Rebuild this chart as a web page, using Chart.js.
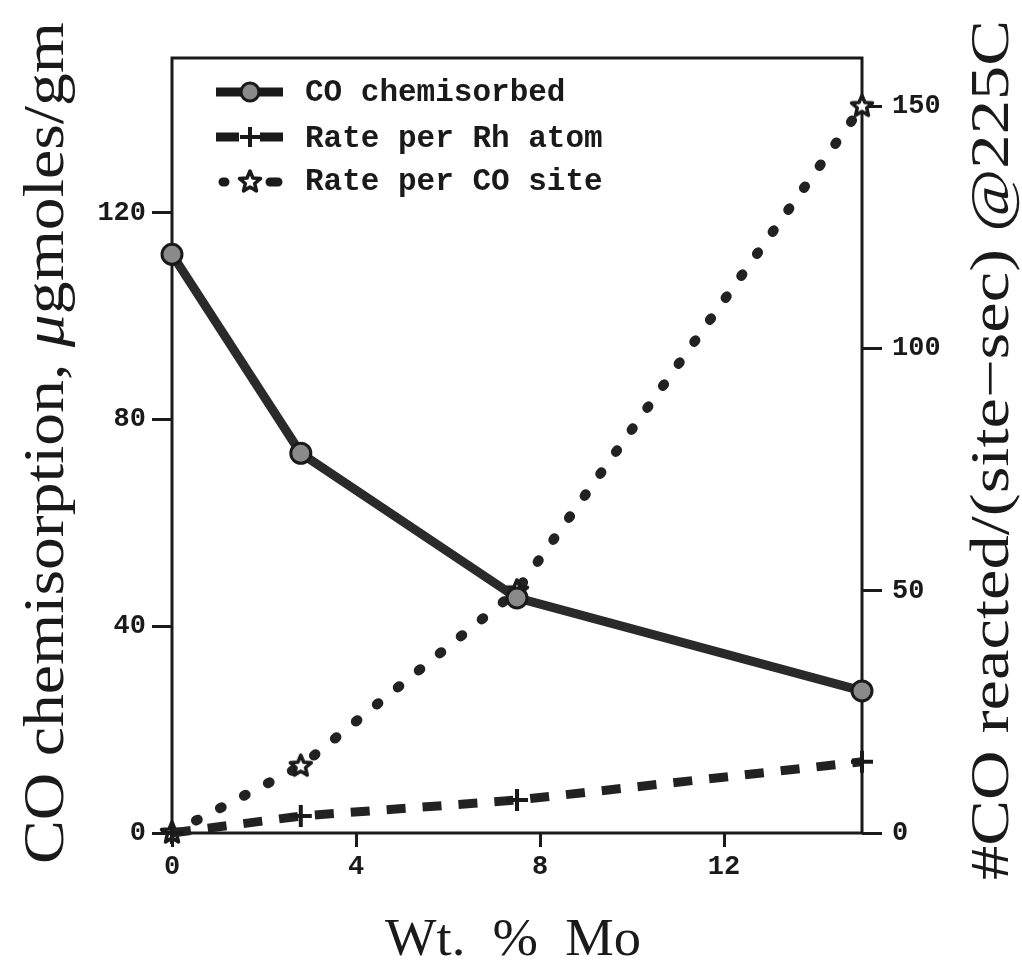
<!DOCTYPE html>
<html>
<head>
<meta charset="utf-8">
<script src="https://cdn.jsdelivr.net/npm/chart.js@4.4.0/dist/chart.umd.min.js"></script>
<style>
  html, body { margin: 0; padding: 0; background: #fff; }
</style>
</head>
<body>
<canvas id="chart" width="1022" height="967"></canvas>
<script>
// values
const wtMo = [0, 2.8, 7.5, 15];
const coChemisorbed = [112, 73.5, 45.5, 27.5];   // left axis
const ratePerRh = [0, 3.5, 6.8, 14.7];           // right axis
const ratePerSite = [0, 13.8, 50, 150];          // right axis

const xTicks = [0, 4, 8, 12];
const leftTicks = [0, 40, 80, 120];
const rightTicks = [0, 50, 100, 150];

const ink = '#1a1a1a';
const tickFont = { family: 'Liberation Mono', size: 27, weight: 'bold' };

function xy(ys) {
  return wtMo.map((x, i) => ({ x: x, y: ys[i] }));
}

// five pointed star marker, Chart.js 'star' is an asterisk
function makeStar(r) {
  const c = document.createElement('canvas');
  c.width = c.height = r * 2 + 6;
  const g = c.getContext('2d');
  g.translate(r + 3, r + 3);
  g.beginPath();
  for (let i = 0; i < 10; i++) {
    const rad = i % 2 ? r * 0.45 : r;
    const a = -Math.PI / 2 + i * Math.PI / 5;
    g.lineTo(Math.cos(a) * rad, Math.sin(a) * rad);
  }
  g.closePath();
  g.fillStyle = '#fff';
  g.fill();
  g.lineWidth = 3.5;
  g.lineJoin = 'round';
  g.strokeStyle = ink;
  g.stroke();
  return c;
}
const starImg = makeStar(11);

// draw a run of text pieces stretched to a given length, optionally rotated
function drawRuns(ctx, runs, x, y, width, rotate) {
  ctx.save();
  let total = 0;
  runs.forEach(r => {
    ctx.font = r[1];
    total += ctx.measureText(r[0]).width;
  });
  ctx.translate(x, y);
  if (rotate) ctx.rotate(-Math.PI / 2);
  ctx.scale(width / total, 1);
  ctx.fillStyle = ink;
  ctx.textAlign = 'left';
  ctx.textBaseline = 'alphabetic';
  let pos = -total / 2;
  runs.forEach(r => {
    ctx.font = r[1];
    ctx.fillText(r[0], pos, 0);
    pos += ctx.measureText(r[0]).width;
  });
  ctx.restore();
}

const framePlugin = {
  id: 'frame',
  beforeDatasetsDraw(chart) {
    const { ctx, chartArea: a } = chart;
    ctx.save();
    ctx.strokeStyle = ink;
    ctx.lineWidth = 3;
    ctx.strokeRect(a.left, a.top, a.right - a.left, a.bottom - a.top);
    ctx.restore();
  }
};

const labelsPlugin = {
  id: 'labels',
  afterDraw(chart) {
    const ctx = chart.ctx;
    const serif = 'Liberation Serif';

    // axis titles
    drawRuns(ctx, [
      ['CO chemisorption, ', '56px "' + serif + '"'],
      ['\u03bc', 'italic 56px "' + serif + '"'],
      ['gmoles/gm', '56px "' + serif + '"']
    ], 63, 443, 842, true);
    drawRuns(ctx, [['#CO reacted/(site\u2212sec) @225C', '54px "' + serif + '"']], 1008, 450, 860, true);
    drawRuns(ctx, [['Wt.  %  Mo', '52px "' + serif + '"']], 513, 955, 256, false);

    // legend in the top-left corner of the plot
    const rows = [
      { y: 92, base: 101, text: 'CO chemisorbed' },
      { y: 137, base: 147, text: 'Rate per Rh atom' },
      { y: 182, base: 190, text: 'Rate per CO site' }
    ];
    ctx.save();
    ctx.strokeStyle = ink;
    ctx.fillStyle = ink;

    ctx.lineWidth = 9;
    ctx.beginPath();
    ctx.moveTo(216, rows[0].y);
    ctx.lineTo(283, rows[0].y);
    ctx.stroke();
    ctx.fillStyle = '#8a8a8a';
    ctx.lineWidth = 3;
    Chart.helpers.drawPoint(ctx, { pointStyle: 'circle', radius: 9, borderWidth: 3 }, 250, rows[0].y);

    ctx.fillStyle = ink;
    ctx.lineWidth = 9;
    ctx.beginPath();
    ctx.moveTo(216, rows[1].y);
    ctx.lineTo(239, rows[1].y);
    ctx.moveTo(260, rows[1].y);
    ctx.lineTo(283, rows[1].y);
    ctx.stroke();
    ctx.lineWidth = 4;
    Chart.helpers.drawPoint(ctx, { pointStyle: 'cross', radius: 10, borderWidth: 4 }, 250, rows[1].y);

    ctx.lineWidth = 9;
    ctx.lineCap = 'round';
    ctx.beginPath();
    ctx.moveTo(223, rows[2].y);
    ctx.lineTo(225, rows[2].y);
    ctx.moveTo(270, rows[2].y);
    ctx.lineTo(278, rows[2].y);
    ctx.stroke();
    ctx.lineCap = 'butt';
    ctx.drawImage(starImg, 250 - starImg.width / 2, rows[2].y - starImg.height / 2);

    ctx.font = 'bold 31px "Liberation Mono"';
    ctx.textAlign = 'left';
    ctx.textBaseline = 'alphabetic';
    rows.forEach(r => ctx.fillText(r.text, 305, r.base));
    ctx.restore();
  }
};

const ctx = document.getElementById('chart');
new Chart(ctx, {
  type: 'line',
  data: {
    datasets: [
      {
        label: 'CO chemisorbed',
        data: xy(coChemisorbed),
        yAxisID: 'y',
        borderColor: '#2a2a2a',
        borderWidth: 9,
        pointStyle: 'circle',
        pointRadius: 10,
        pointBackgroundColor: '#8a8a8a',
        pointBorderColor: ink,
        pointBorderWidth: 3,
        clip: false
      },
      {
        label: 'Rate per Rh atom',
        data: xy(ratePerRh),
        yAxisID: 'y1',
        borderColor: '#222',
        borderWidth: 9,
        borderDash: [19, 17],
        pointStyle: 'cross',
        pointRadius: 11,
        pointBorderColor: ink,
        pointBorderWidth: 4,
        clip: false
      },
      {
        label: 'Rate per CO site',
        data: xy(ratePerSite),
        yAxisID: 'y1',
        borderColor: '#222',
        borderWidth: 10,
        borderDash: [2, 25],
        borderCapStyle: 'round',
        pointStyle: starImg,
        clip: false
      }
    ]
  },
  options: {
    responsive: false,
    animation: false,
    devicePixelRatio: 1,
    layout: { padding: { top: 58, left: 0, right: 0, bottom: 0 } },
    plugins: {
      legend: { display: false },
      tooltip: { enabled: false }
    },
    scales: {
      x: {
        type: 'linear',
        min: 0,
        max: 15,
        afterBuildTicks: s => { s.ticks = xTicks.map(v => ({ value: v })); },
        afterFit: s => { s.height = 134; },
        border: { display: false },
        grid: { drawOnChartArea: false, tickLength: 14, tickWidth: 3, tickColor: ink },
        ticks: { font: tickFont, color: ink, padding: 4, maxRotation: 0 }
      },
      y: {
        position: 'left',
        min: 0,
        max: 150,
        afterBuildTicks: s => { s.ticks = leftTicks.map(v => ({ value: v })); },
        afterFit: s => { s.width = 172; },
        border: { display: false },
        grid: { drawOnChartArea: false, tickLength: 20, tickWidth: 3, tickColor: ink },
        ticks: { font: tickFont, color: ink, padding: 6 }
      },
      y1: {
        position: 'right',
        min: 0,
        max: 160,
        afterBuildTicks: s => { s.ticks = rightTicks.map(v => ({ value: v })); },
        afterFit: s => { s.width = 160; },
        border: { display: false },
        grid: { drawOnChartArea: false, tickLength: 20, tickWidth: 3, tickColor: ink },
        ticks: { font: tickFont, color: ink, padding: 10 }
      }
    }
  },
  plugins: [framePlugin, labelsPlugin]
});
</script>
</body>
</html>
